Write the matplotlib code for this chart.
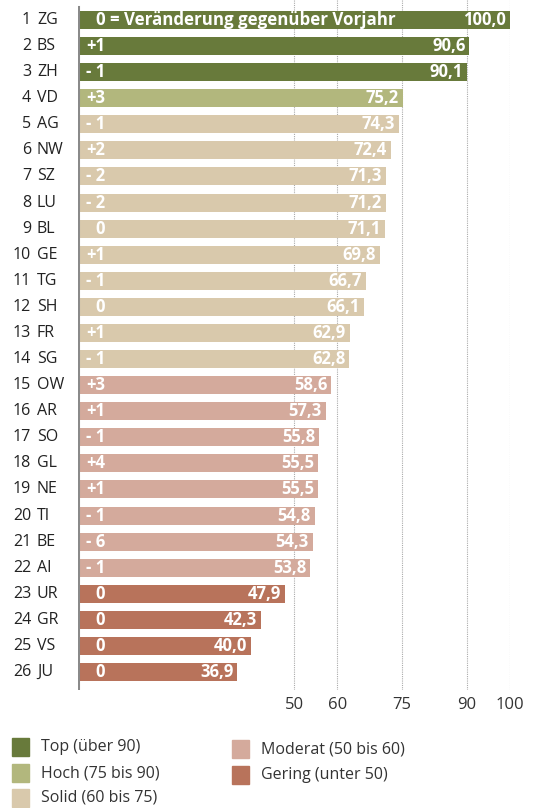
import matplotlib
matplotlib.use("Agg")
import matplotlib.pyplot as plt
from matplotlib.patches import Rectangle

plt.rcParams['font.family'] = ['Open Sans', 'DejaVu Sans']

ranks = list(range(1, 27))
cantons = ["ZG", "BS", "ZH", "VD", "AG", "NW", "SZ", "LU", "BL", "GE", "TG", "SH", "FR",
           "SG", "OW", "AR", "SO", "GL", "NE", "TI", "BE", "AI", "UR", "GR", "VS", "JU"]
values = [100.0, 90.6, 90.1, 75.2, 74.3, 72.4, 71.3, 71.2, 71.1, 69.8, 66.7, 66.1, 62.9,
          62.8, 58.6, 57.3, 55.8, 55.5, 55.5, 54.8, 54.3, 53.8, 47.9, 42.3, 40.0, 36.9]
changes = ["0", "+1", "- 1", "+3", "- 1", "+2", "- 2", "- 2", "0", "+1", "- 1", "0", "+1",
           "- 1", "+3", "+1", "- 1", "+4", "+1", "- 1", "- 6", "- 1", "0", "0", "0", "0"]
ticks = [50, 60, 75, 90, 100]
categories = ["Top (über 90)", "Hoch (75 bis 90)", "Solid (60 bis 75)",
              "Moderat (50 bis 60)", "Gering (unter 50)"]
colors = ["#687a3b", "#b2b77d", "#d9c9ac", "#d4aa9c", "#b8735b"]
first_note = "0 = Veränderung gegenüber Vorjahr"

def cat_color(v):
    if v >= 90:
        return colors[0]
    if v >= 75:
        return colors[1]
    if v >= 60:
        return colors[2]
    if v >= 50:
        return colors[3]
    return colors[4]

W, H = 537, 808
fig = plt.figure(figsize=(W / 100, H / 100), dpi=100)
ax_left, ax_right, ax_top, ax_bot = 78, 510, 0, 690
ax = fig.add_axes([ax_left / W, 1 - ax_bot / H, (ax_right - ax_left) / W, (ax_bot - ax_top) / H])

spacing = (672 - 20) / 25
ax.set_xlim(0, 100)
ax.set_ylim(25 + (ax_bot - 672) / spacing, -(20 - ax_top) / spacing)

ypos = list(range(len(values)))
ax.barh(ypos, values, height=18 / spacing, color=[cat_color(v) for v in values], zorder=2)

for t in ticks:
    ax.axvline(t, color="#aaaaaa", linestyle=(0, (1, 1)), linewidth=0.8, zorder=1)
ax.axvline(0, ymin=(ax_bot - 688) / (ax_bot - ax_top), ymax=(ax_bot - 7) / (ax_bot - ax_top),
           color="#8a8a8a", linewidth=2.2, zorder=3)

for s in ax.spines.values():
    s.set_visible(False)
ax.set_yticks([])
ax.set_xticks(ticks)
ax.set_xticklabels([str(t) for t in ticks])
ax.tick_params(axis="x", length=0, pad=5, labelsize=12, labelcolor="#333333")

px = 100 / (ax_right - ax_left)  # data units per pixel
for i, (r, c, v, ch) in enumerate(zip(ranks, cantons, values, changes)):
    fig.text(31 / W, 1 - (20 + i * spacing) / H, str(r), ha="right", va="center",
             fontsize=11.5, color="#222222")
    fig.text(37 / W, 1 - (20 + i * spacing) / H, c, ha="left", va="center",
             fontsize=11.5, color="#222222")
    if i == 0:
        ax.text(18 * px, i, first_note, ha="left", va="center", fontsize=12.2,
                fontweight="bold", color="white", zorder=4)
    else:
        ax.text(27 * px, i, ch, ha="right", va="center", fontsize=12,
                fontweight="bold", color="white", zorder=4)
    ax.text(v - 4 * px, i, f"{v:.1f}".replace(".", ","), ha="right", va="center",
            fontsize=12, fontweight="bold", color="white", zorder=4)

# legend
leg_items = [(12, 747), (12, 773), (12, 798), (232, 749), (232, 775)]
for (lx, ly), lab, col in zip(leg_items, categories, colors):
    fig.patches.append(Rectangle((lx / W, 1 - (ly + 9) / H), 17 / W, 18 / H,
                                 transform=fig.transFigure, color=col))
    fig.text((lx + 29) / W, 1 - ly / H, lab, ha="left", va="center",
             fontsize=11.5, color="#333333")

fig.savefig("out.png", dpi=100)
